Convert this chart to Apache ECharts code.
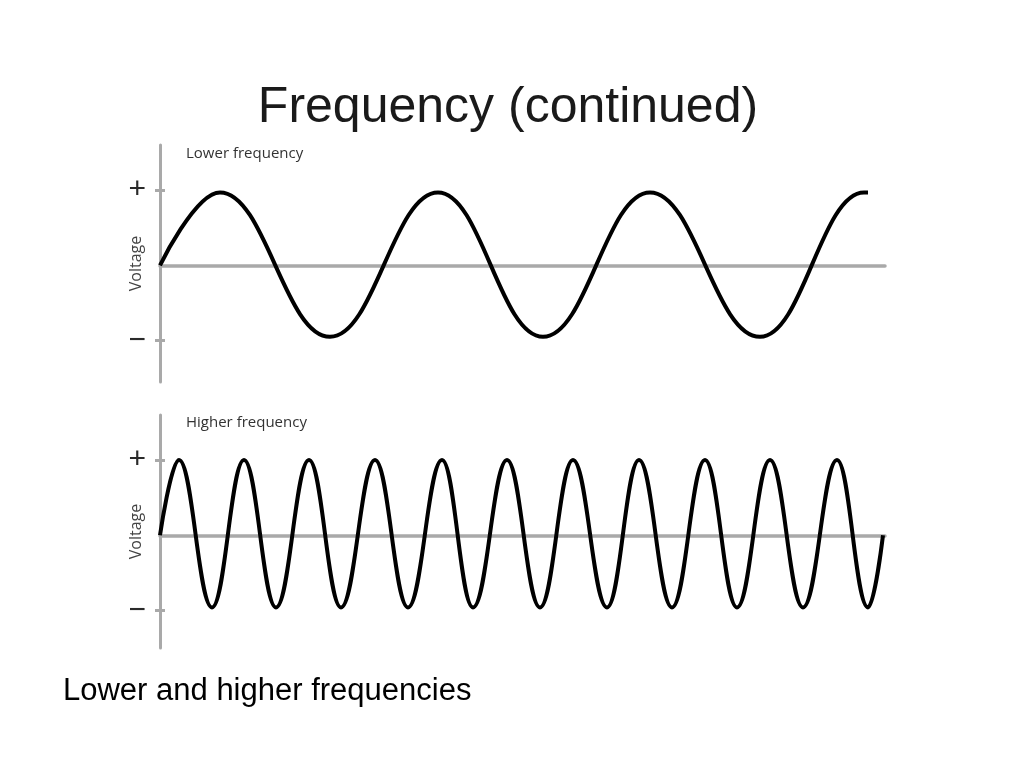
<!DOCTYPE html>
<html>
<head>
<meta charset="utf-8">
<script src="https://cdn.jsdelivr.net/npm/echarts@6/dist/echarts.min.js"></script>
<style>
html,body{margin:0;padding:0;background:#fff;}
#c{width:1024px;height:768px;}
</style>
</head>
<body>
<div id="c"></div>
<script>
// ---- data: time (arbitrary units) of each start / crest / trough / end point, and the voltage there ----
var lowerTime    = [0, 60, 170, 278, 383, 490, 600, 704, 708];
var lowerVoltage = [0, 0.97, -0.95, 0.97, -0.95, 0.97, -0.95, 0.97, 0.97];

var higherTime    = [0, 19, 52, 84, 116, 149, 181, 215, 248, 282, 313, 347, 380, 413, 447, 479, 512, 545, 577, 610, 643, 677, 708, 723];
var higherVoltage = [0, 1, -0.96, 1, -0.96, 1, -0.96, 1, -0.96, 1, -0.96, 1, -0.96, 1, -0.96, 1, -0.96, 1, -0.96, 1, -0.96, 1, -0.96, 0];

var tickValues = [-1, 1];
var tickLabels = {'1': '+', '-1': '\u2212'};
var panelTitles = ['Lower frequency', 'Higher frequency'];
var yName = 'Voltage';
var mainTitle = 'Frequency (continued)';
var caption = 'Lower and higher frequencies';

function pairs(xs, ys) {
  var out = [];
  for (var i = 0; i < xs.length; i++) out.push([xs[i], ys[i]]);
  return out;
}

var AXIS_COLOR = '#a9a9a9';

function yAxisMain(gi, min, max) {
  return {
    type: 'value', gridIndex: gi, min: min, max: max, position: 'left',
    splitLine: {show: false},
    axisLine: {show: true, lineStyle: {color: AXIS_COLOR, width: 3}},
    axisTick: {show: true, customValues: tickValues, length: 5, lineStyle: {color: AXIS_COLOR, width: 3}},
    axisLabel: {show: true, customValues: tickValues, margin: 14,
      formatter: function (v) { return tickLabels[String(v)]; },
      padding: [6, 0, 0, 0],
      color: '#2a2a2a', fontSize: 30, fontFamily: 'Liberation Sans'},
    name: yName, nameLocation: 'middle', nameRotate: 90, nameGap: 16,
    nameMoveOverlap: false,
    nameTextStyle: {color: '#444', fontSize: 16, fontFamily: 'Open Sans'}
  };
}
function yAxisInner(gi, min, max) {
  return {
    type: 'value', gridIndex: gi, min: min, max: max, position: 'left',
    splitLine: {show: false},
    axisLine: {show: false},
    axisTick: {show: true, inside: true, customValues: tickValues, length: 5, lineStyle: {color: AXIS_COLOR, width: 3}},
    axisLabel: {show: false}
  };
}
function xAxisDef(gi) {
  return {
    type: 'value', gridIndex: gi, min: 0, max: 725,
    splitLine: {show: false},
    axisLine: {show: true, onZero: true, lineStyle: {color: AXIS_COLOR, width: 3.5}},
    axisTick: {show: false}, axisLabel: {show: false}
  };
}

var chart = echarts.init(document.getElementById('c'), null, {renderer: 'canvas'});
chart.setOption({
  animation: false,
  backgroundColor: '#ffffff',
  grid: [
    {left: 160, width: 725, top: 145, height: 237},
    {left: 160, width: 725, top: 415, height: 233}
  ],
  xAxis: [xAxisDef(0), xAxisDef(1)],
  yAxis: [
    yAxisMain(0, -1.55, 1.6), yAxisInner(0, -1.55, 1.6),
    yAxisMain(1, -1.5, 1.6), yAxisInner(1, -1.5, 1.6)
  ],
  series: [
    {type: 'line', xAxisIndex: 0, yAxisIndex: 0, data: pairs(lowerTime, lowerVoltage),
     smooth: 0.41, smoothMonotone: 'x', showSymbol: false, symbol: 'none', silent: true,
     lineStyle: {color: '#000', width: 4}, z: 5},
    {type: 'line', xAxisIndex: 1, yAxisIndex: 2, data: pairs(higherTime, higherVoltage),
     smooth: 0.41, smoothMonotone: 'x', showSymbol: false, symbol: 'none', silent: true,
     lineStyle: {color: '#000', width: 4}, z: 5}
  ],
  graphic: [
    {type: 'text', x: 508, y: 108, style: {text: mainTitle, fill: '#1a1a1a', font: '50px "Liberation Sans"', textAlign: 'center', textVerticalAlign: 'middle'}},
    {type: 'text', x: 186, y: 154, style: {text: panelTitles[0], fill: '#333', font: '15px "Open Sans"', textAlign: 'left', textVerticalAlign: 'middle'}},
    {type: 'text', x: 186, y: 423, style: {text: panelTitles[1], fill: '#333', font: '15px "Open Sans"', textAlign: 'left', textVerticalAlign: 'middle'}},
    {type: 'text', x: 63, y: 691, style: {text: caption, fill: '#000', font: '31px "Liberation Sans"', textAlign: 'left', textVerticalAlign: 'middle'}}
  ]
});
</script>
</body>
</html>
